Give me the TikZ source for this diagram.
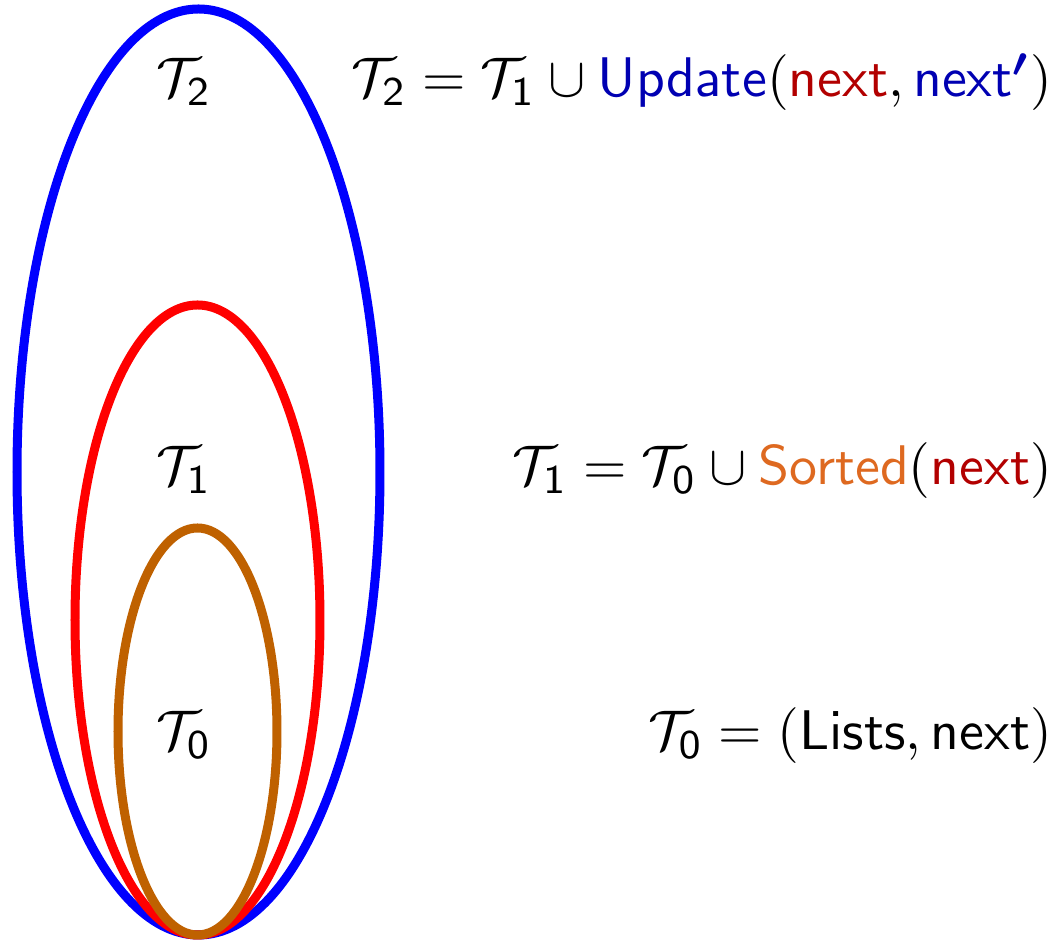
\documentclass[tikz,border=0pt]{standalone}
\usepackage{graphicx}
\usepackage{amssymb}
\usepackage{bm}
\definecolor{eblue}{RGB}{0,0,255}
\definecolor{ered}{RGB}{255,0,0}
\definecolor{eorange}{RGB}{191,97,0}
\definecolor{tblue}{RGB}{0,0,178}
\definecolor{tred}{RGB}{178,0,0}
\definecolor{torange}{RGB}{222,105,32}
\newcommand{\Tsub}[1]{\mathcal{T}_{\mathsf{#1}}}
\newcommand{\sz}[1]{\scalebox{1.02}{#1}}
\begin{document}
\begin{tikzpicture}[x=0.2pt,y=-0.2pt,
  ring/.style={line width=1.8pt},
  lbl/.style={anchor=base,inner sep=0pt,font=\fontsize{10.95}{13}\selectfont\sffamily},
  eqn/.style={anchor=base east,inner sep=0pt,font=\fontsize{10.95}{13}\selectfont\sffamily}]
\useasboundingbox (0,0) rectangle (1059,943);
\draw[ring,eblue] (198.5,472) ellipse [x radius=181.5, y radius=463];
\draw[ring,ered] (197.5,620) ellipse [x radius=122.5, y radius=315];
\draw[ring,eorange] (197.5,731.5) ellipse [x radius=79.5, y radius=203.5];
\node[lbl] (l2) at (184,97) {\sz{$\Tsub{2}$}};
\node[lbl] (l1) at (184,485) {\sz{$\Tsub{1}$}};
\node[lbl] (l0) at (184,750) {\sz{$\Tsub{0}$}};
\node[eqn] (e2) at (1053,97) {\sz{$\Tsub{2} = \Tsub{1} \cup \textcolor{tblue}{\mathsf{Update}}(\textcolor{tred}{\mathsf{next}}, \textcolor{tblue}{\mathsf{next}^{\bm{\prime}}})$}};
\node[eqn] (e1) at (1053,485) {\sz{$\Tsub{1} = \Tsub{0} \cup \textcolor{torange}{\mathsf{Sorted}}(\textcolor{tred}{\mathsf{next}})$}};
\node[eqn] (e0) at (1053,750) {\sz{$\Tsub{0} = (\mathsf{Lists}, \mathsf{next})$}};
\end{tikzpicture}
\end{document}
